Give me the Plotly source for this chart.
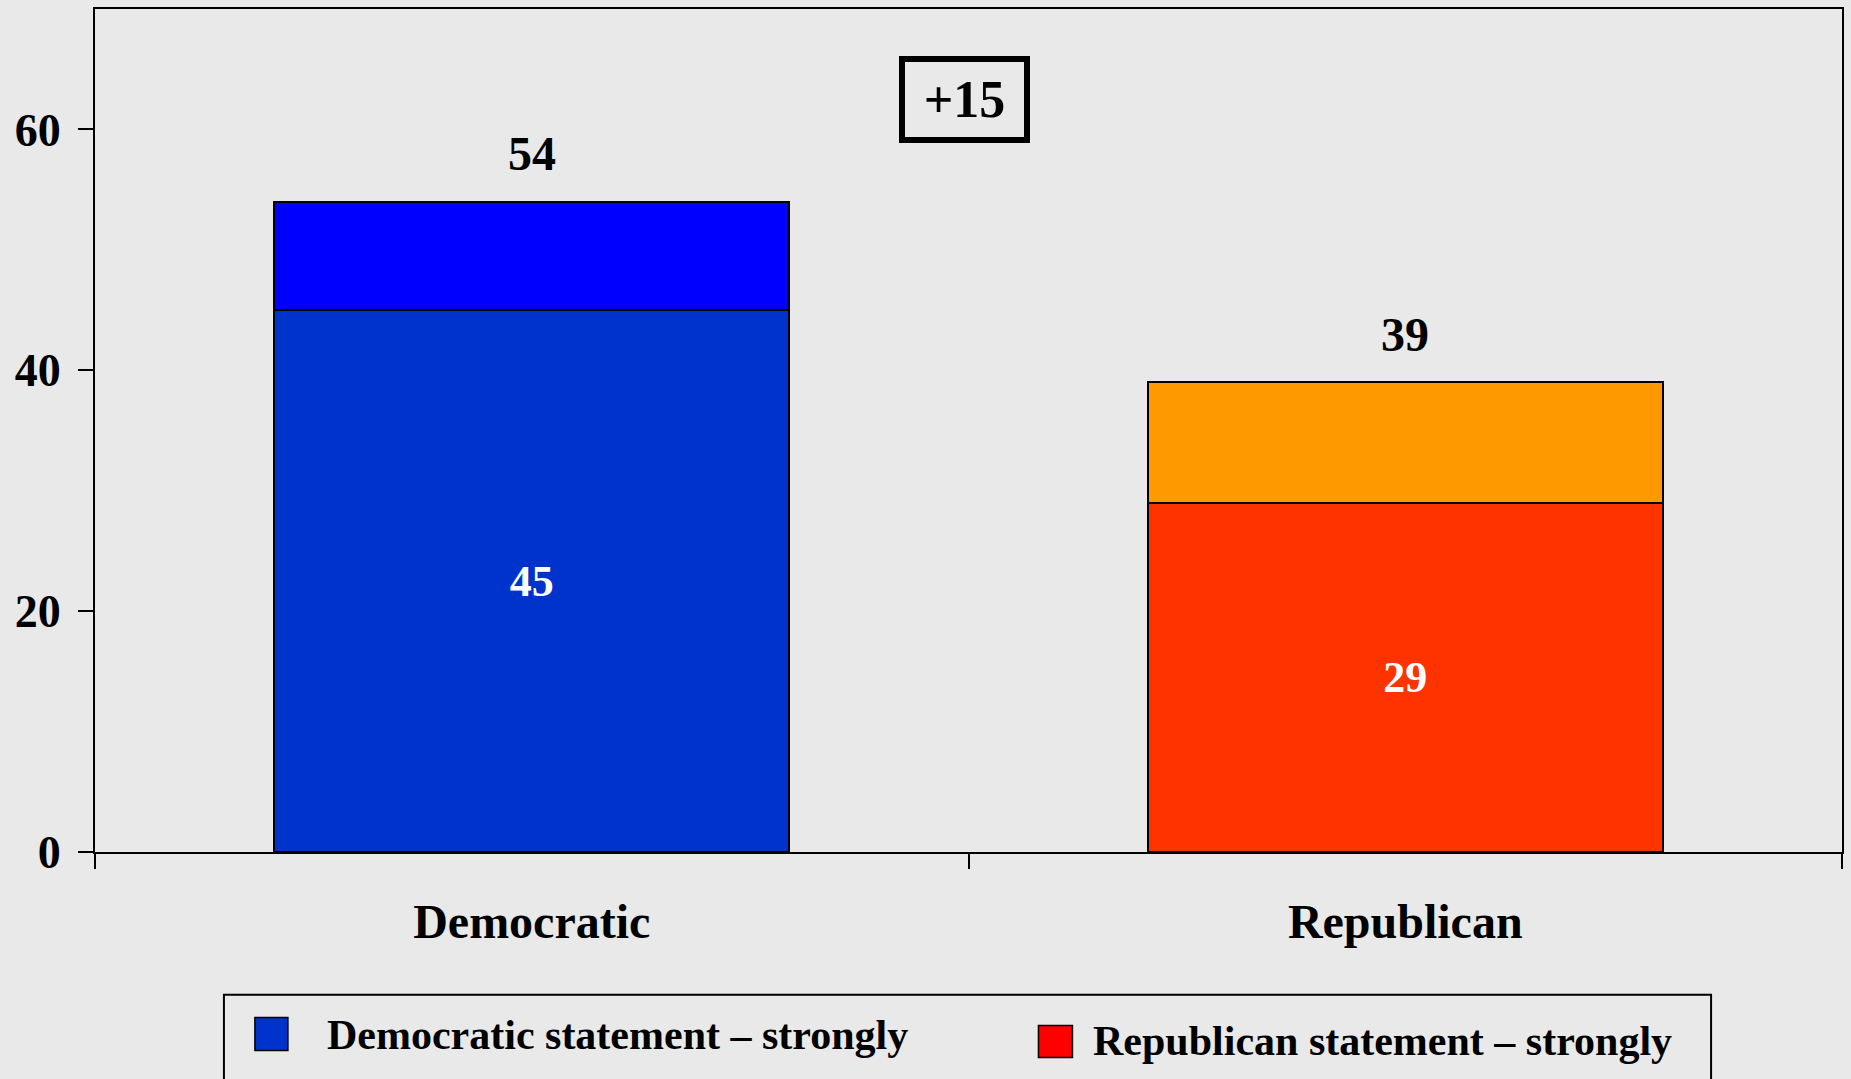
import plotly.graph_objects as go

# ---- data ----
categories = ["Democratic", "Republican"]
strongly = [45, 29]
not_strongly = [9, 10]
totals = [s + n for s, n in zip(strongly, not_strongly)]
strong_colors = ["#0033CC", "#FF3300"]
weak_colors = ["#0000FF", "#FF9900"]
legend_labels = ["Democratic statement \u2013 strongly", "Republican statement \u2013 strongly"]
legend_colors = ["#0033CC", "#FF0000"]
y_ticks = [0, 20, 40, 60]

W, H = 1851, 1079
L, R, T, B = 95, 1843, 7, 852
FONT = "Times New Roman, Liberation Serif, serif"


def px_x(px):
    return (px - L) / (R - L)


def px_y(py):
    return (B - py) / (B - T)


fig = go.Figure()
fig.add_trace(go.Bar(
    x=categories, y=strongly, name="strongly",
    marker=dict(color=strong_colors, line=dict(color="black", width=2)),
    text=[str(v) for v in strongly], textposition="inside", insidetextanchor="middle",
    textfont=dict(family=FONT, size=44, color="white", weight="bold"),
    showlegend=False, hoverinfo="skip",
))
fig.add_trace(go.Bar(
    x=categories, y=not_strongly, name="not strongly",
    marker=dict(color=weak_colors, line=dict(color="black", width=2)),
    showlegend=False, hoverinfo="skip",
))

# totals above bars
for c, t in zip(categories, totals):
    fig.add_annotation(x=c, y=t, xref="x", yref="y", text=str(t), showarrow=False,
                       yanchor="middle", yshift=48,
                       font=dict(family=FONT, size=48, color="black", weight="bold"))

# difference box
fig.add_annotation(x=px_x(965), y=px_y(98), xref="paper", yref="paper",
                   text=f"+{totals[0] - totals[1]}", showarrow=False,
                   xanchor="center", yanchor="middle",
                   width=107, height=63, borderpad=6,
                   bordercolor="black", borderwidth=6,
                   font=dict(family=FONT, size=52, color="black", weight="bold"))

# manual legend
fig.add_shape(type="rect", xref="paper", yref="paper",
              x0=px_x(224), x1=px_x(1712), y0=px_y(995), y1=px_y(1095),
              line=dict(color="black", width=2), fillcolor="rgba(0,0,0,0)")
sq = [(255, 288, 1018, 1051), (1039, 1073, 1026, 1058)]
txt = [(325, 1035), (1092, 1041)]
for lab, col, (x0, x1, y0, y1), (tx, ty) in zip(legend_labels, legend_colors, sq, txt):
    fig.add_shape(type="rect", xref="paper", yref="paper",
                  x0=px_x(x0), x1=px_x(x1), y0=px_y(y0), y1=px_y(y1),
                  line=dict(color="black", width=1.5), fillcolor=col)
    fig.add_annotation(x=px_x(tx), y=px_y(ty), xref="paper", yref="paper",
                       text=lab, showarrow=False, xanchor="left", yanchor="middle",
                       font=dict(family=FONT, size=42, color="black", weight="bold"))

fig.update_layout(
    width=W, height=H,
    margin=dict(l=L, r=W - R, t=T, b=H - B),
    paper_bgcolor="#E9E9E9", plot_bgcolor="#E9E9E9",
    barmode="stack", bargap=0.41,
    showlegend=False,
)
fig.update_xaxes(
    showline=True, linecolor="black", linewidth=2, mirror=True,
    ticks="outside", ticklen=15, tickwidth=2, tickcolor="black",
    tickson="boundaries", showgrid=False,
    tickfont=dict(family=FONT, size=48, color="black", weight="bold"),
    ticklabelstandoff=26,
)
fig.update_yaxes(
    range=[0, 70], tickvals=y_ticks,
    showline=True, linecolor="black", linewidth=2, mirror=True,
    ticks="outside", ticklen=15, tickwidth=2, tickcolor="black",
    showgrid=False, zeroline=False,
    tickfont=dict(family=FONT, size=46, color="black", weight="bold"),
    ticklabelstandoff=8,
)

fig.write_html("out.html", config={"displayModeBar": False},
               post_script="document.body.style.margin='0';document.body.style.overflow='hidden';")
